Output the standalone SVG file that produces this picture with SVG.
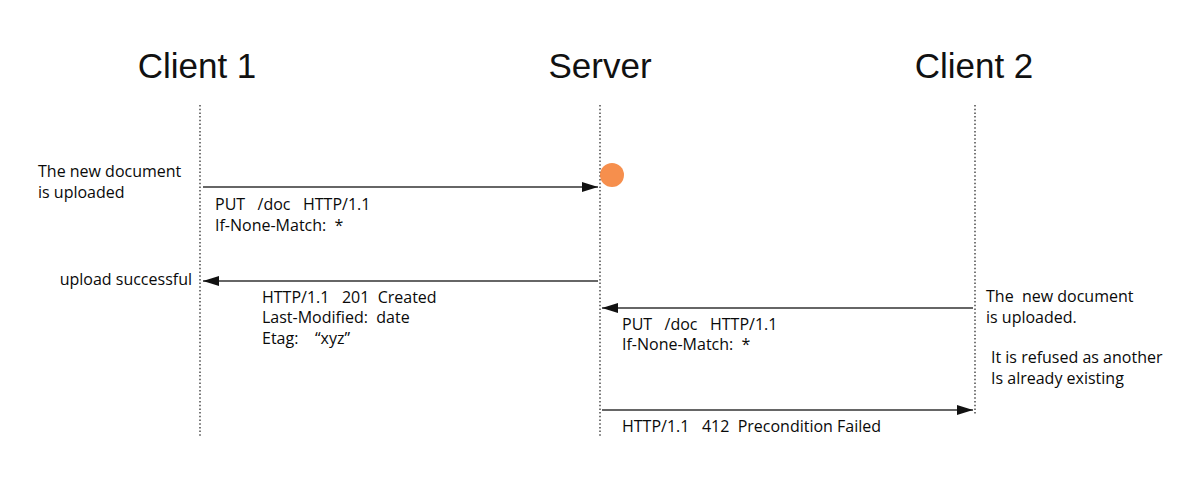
<svg xmlns="http://www.w3.org/2000/svg" width="1196" height="479" viewBox="0 0 1196 479">
<style>
.title{font-family:"Liberation Sans",Arial,sans-serif;font-size:35px;fill:#111;text-anchor:middle}
.lbl{font-family:"Open Sans","Liberation Sans",sans-serif;font-size:16px;fill:#0a0a0a;white-space:pre}
.life{stroke:#555;stroke-width:1.6;stroke-dasharray:1.5 2.2;fill:none}
.msg{stroke:#333;stroke-width:1.4;fill:none}
</style>
<defs>
<marker id="ah" viewBox="0 0 16 10" refX="16" refY="5" markerWidth="16" markerHeight="10" markerUnits="userSpaceOnUse" orient="auto">
<path d="M0,0 L16,5 L0,10 Z" fill="#111"/>
</marker>
</defs>
<rect width="1196" height="479" fill="#fff"/>
<g id="client1">
<text class="title" x="197" y="78">Client 1</text>
<line class="life" x1="200" y1="105" x2="200" y2="437"/>
</g>
<g id="server">
<text class="title" x="600" y="78">Server</text>
<line class="life" x1="600" y1="105" x2="600" y2="437"/>
</g>
<g id="client2">
<text class="title" x="974" y="78">Client 2</text>
<line class="life" x1="975" y1="105" x2="975" y2="415"/>
</g>
<g id="connectors">
<line class="msg" x1="203" y1="187" x2="598" y2="187" marker-end="url(#ah)"/>
<line class="msg" x1="598" y1="281" x2="203" y2="281" marker-end="url(#ah)"/>
<line class="msg" x1="973" y1="308" x2="602" y2="308" marker-end="url(#ah)"/>
<line class="msg" x1="602" y1="410" x2="973" y2="410" marker-end="url(#ah)"/>
</g>
<g id="labels">
<text class="lbl" x="38" y="177">The new document</text>
<text class="lbl" x="38" y="198">is uploaded</text>
<text class="lbl" x="215" y="210">PUT   /doc   HTTP/1.1</text>
<text class="lbl" x="215" y="231">If-None-Match:  *</text>
<text class="lbl" x="192" y="285" text-anchor="end">upload successful</text>
<text class="lbl" x="262" y="303">HTTP/1.1   201  Created</text>
<text class="lbl" x="262" y="323">Last-Modified:  date</text>
<text class="lbl" x="262" y="344">Etag:    “xyz”</text>
<text class="lbl" x="622" y="330">PUT   /doc   HTTP/1.1</text>
<text class="lbl" x="622" y="350">If-None-Match:  *</text>
<text class="lbl" x="622" y="432">HTTP/1.1   412  Precondition Failed</text>
<text class="lbl" x="986" y="302">The  new document</text>
<text class="lbl" x="986" y="323">is uploaded.</text>
<text class="lbl" x="991" y="363">It is refused as another</text>
<text class="lbl" x="991" y="384">Is already existing</text>
</g>
<g id="cursor">
<circle cx="612" cy="175" r="12" fill="#f5833a" opacity="0.9"/>
</g>
</svg>
